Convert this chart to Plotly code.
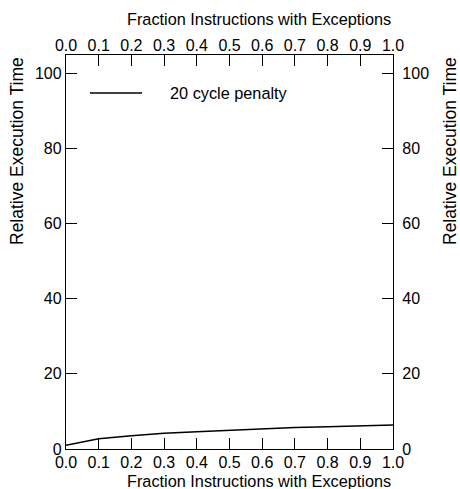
import plotly.graph_objects as go

fraction = [0.0, 0.1, 0.2, 0.3, 0.4, 0.5, 0.6, 0.7, 0.8, 0.9, 1.0]
rel_time = [1.0, 2.7, 3.5, 4.2, 4.6, 5.0, 5.4, 5.7, 5.9, 6.2, 6.4]
series_name = "20 cycle penalty"
x_title = "Fraction Instructions with Exceptions"
y_title = "Relative Execution Time"
x_ticks = [0.0, 0.1, 0.2, 0.3, 0.4, 0.5, 0.6, 0.7, 0.8, 0.9, 1.0]
x_ticklabels = ["0.0", "0.1", "0.2", "0.3", "0.4", "0.5", "0.6", "0.7", "0.8", "0.9", "1.0"]
y_ticks = [0, 20, 40, 60, 80, 100]

FONT = "Liberation Sans, Arial, Helvetica, sans-serif"
FS = 16

fig = go.Figure()
fig.add_trace(go.Scatter(x=fraction, y=rel_time, mode="lines", name=series_name,
                         line=dict(color="black", width=1.5), showlegend=False,
                         xaxis="x", yaxis="y"))
# companion trace so the mirrored top/right axes render
fig.add_trace(go.Scatter(x=fraction, y=rel_time, mode="lines", showlegend=False,
                         line=dict(color="rgba(0,0,0,0)", width=0), hoverinfo="skip",
                         xaxis="x2", yaxis="y2"))

axis_common = dict(showgrid=False, zeroline=False, showline=True, linecolor="black",
                   linewidth=1.3, ticks="inside", ticklen=11, tickwidth=1.3,
                   tickcolor="black", automargin=False,
                   tickfont=dict(size=FS, color="black", family=FONT))

fig.update_layout(
    width=460, height=489,
    margin=dict(l=66, r=67, t=55, b=40),
    paper_bgcolor="white", plot_bgcolor="white",
    font=dict(family=FONT, size=FS, color="black"),
    xaxis=dict(range=[0, 1], tickvals=x_ticks, ticktext=x_ticklabels,
               ticklabelstandoff=-1, **axis_common),
    xaxis2=dict(range=[0, 1], tickvals=x_ticks, ticktext=x_ticklabels, overlaying="x",
                side="top", anchor="y", ticklabelstandoff=-4, **axis_common),
    yaxis=dict(range=[0, 104.8], tickvals=y_ticks, ticklabelstandoff=0, **axis_common),
    yaxis2=dict(range=[0, 104.8], tickvals=y_ticks, overlaying="y", side="right",
                anchor="x", ticklabelstandoff=5, **axis_common),
)

# axis titles: x titles right-aligned to the frame, y titles top-aligned
title_font = dict(size=16.3, color="black", family=FONT)
ytitle_font = dict(size=17.5, color="black", family=FONT)
fig.add_annotation(xref="paper", yref="paper", x=1, y=0, xanchor="right", yanchor="middle",
                   yshift=-32, text=x_title, showarrow=False, font=title_font)
fig.add_annotation(xref="paper", yref="paper", x=1, y=1, xanchor="right", yanchor="middle",
                   yshift=36, text=x_title, showarrow=False, font=title_font)
fig.add_annotation(xref="paper", yref="paper", x=0, y=1, xanchor="center", yanchor="top",
                   xshift=-49, textangle=-90, text=y_title, showarrow=False, font=ytitle_font)
fig.add_annotation(xref="paper", yref="paper", x=1, y=1, xanchor="center", yanchor="top",
                   xshift=57, textangle=-90, text=y_title, showarrow=False, font=ytitle_font)

# legend drawn in-plot as a sample line and label
fig.add_shape(type="line", xref="paper", yref="paper",
              x0=(90 - 66) / 327, x1=(142 - 66) / 327,
              y0=(449 - 93) / 394, y1=(449 - 93) / 394,
              line=dict(color="black", width=1.5))
fig.add_annotation(xref="paper", yref="paper", x=(168 - 66) / 327, y=(449 - 93) / 394,
                   text=series_name, showarrow=False, xanchor="left", yanchor="middle",
                   font=dict(size=16.3, color="black", family=FONT))

# remove the page's default body margin so the figure fills the window exactly
fig.write_html("out.html", config={"displayModeBar": False},
               post_script="document.body.style.margin='0';document.body.style.overflow='hidden';")
